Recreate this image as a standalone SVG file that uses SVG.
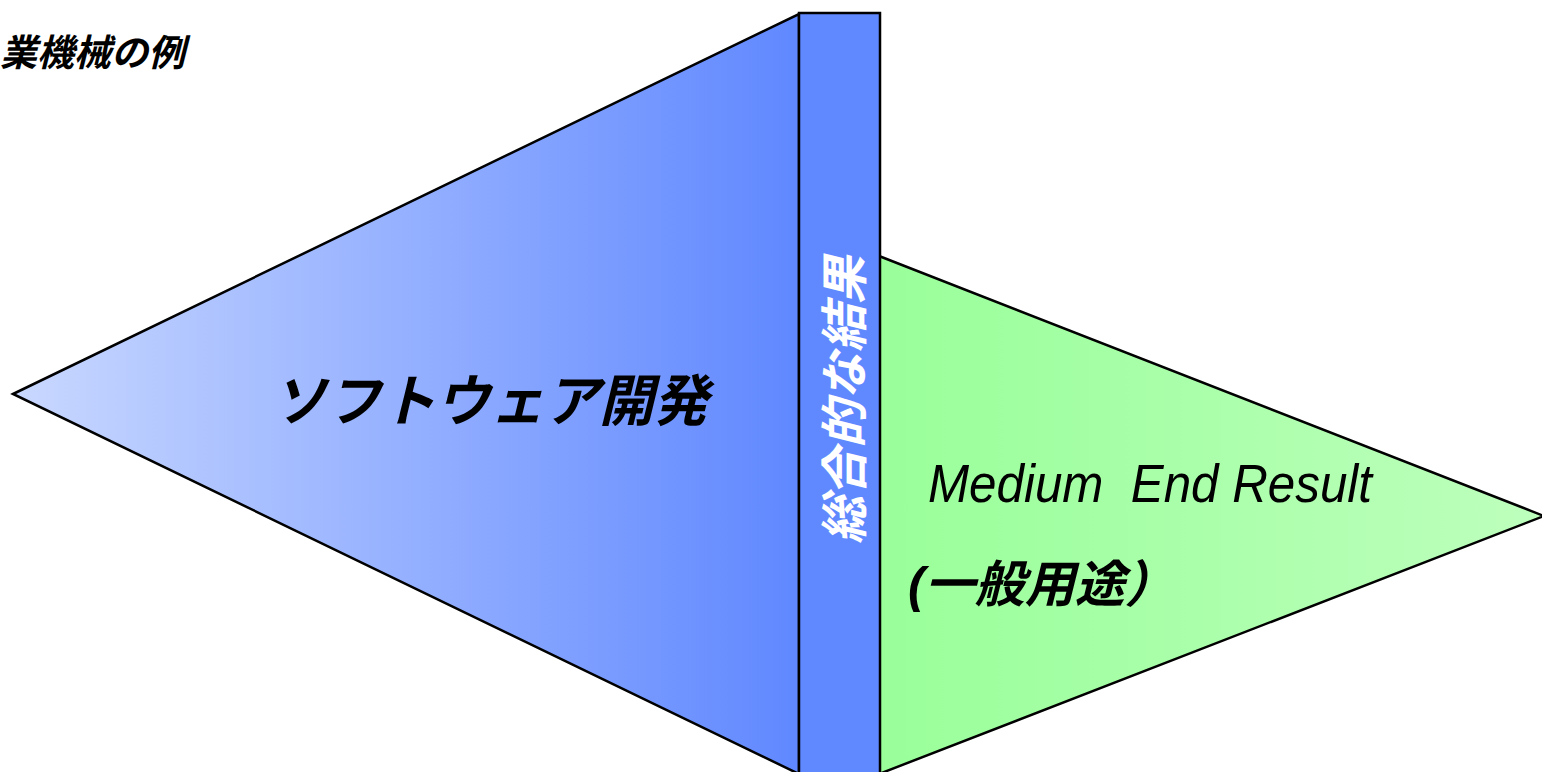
<svg xmlns="http://www.w3.org/2000/svg" width="1542" height="772" viewBox="0 0 1542 772">
<style>
.shape{stroke:#000;stroke-width:2.5;stroke-linejoin:miter}
.jp{font-family:"Liberation Sans","Noto Sans CJK JP",sans-serif;font-style:italic}
</style>
<defs>
<linearGradient id="gBlue" x1="13" y1="0" x2="799" y2="0" gradientUnits="userSpaceOnUse">
<stop offset="0" stop-color="#c9d8ff"/>
<stop offset="1" stop-color="#6088ff"/>
</linearGradient>
<linearGradient id="gGreen" x1="879" y1="0" x2="1542" y2="0" gradientUnits="userSpaceOnUse">
<stop offset="0" stop-color="#99ff99"/>
<stop offset="1" stop-color="#bdffbd"/>
</linearGradient>
</defs>
<rect width="1542" height="772" fill="#fff"/>
<g id="title">
<text class="jp" x="0" y="66" font-size="37" font-weight="bold" fill="#000">業機械の例</text>
</g>
<g id="software">
<polygon class="shape" points="13,394 799,14 799,774" fill="url(#gBlue)"/>
<text class="jp" x="272" y="421" font-size="56" font-weight="bold" fill="#000" textLength="436" lengthAdjust="spacingAndGlyphs">ソフトウェア開発</text>
</g>
<g id="result">
<polygon class="shape" points="879,256 1544,516 879,774" fill="url(#gGreen)"/>
<text class="jp" x="928" y="502" font-size="53" fill="#000" textLength="444" lengthAdjust="spacingAndGlyphs" xml:space="preserve">Medium  End Result</text>
<text class="jp" x="908" y="602" font-size="50" font-weight="bold" fill="#000">(一般用途）</text>
</g>
<g id="overall">
<rect class="shape" x="799" y="13" width="81" height="762" fill="#6189ff"/>
<text class="jp" transform="translate(862,400) rotate(-90)" x="0" y="0" font-size="48" font-weight="bold" fill="#fff" text-anchor="middle">総合的な結果</text>
</g>
<g id="connectors"/>
</svg>
